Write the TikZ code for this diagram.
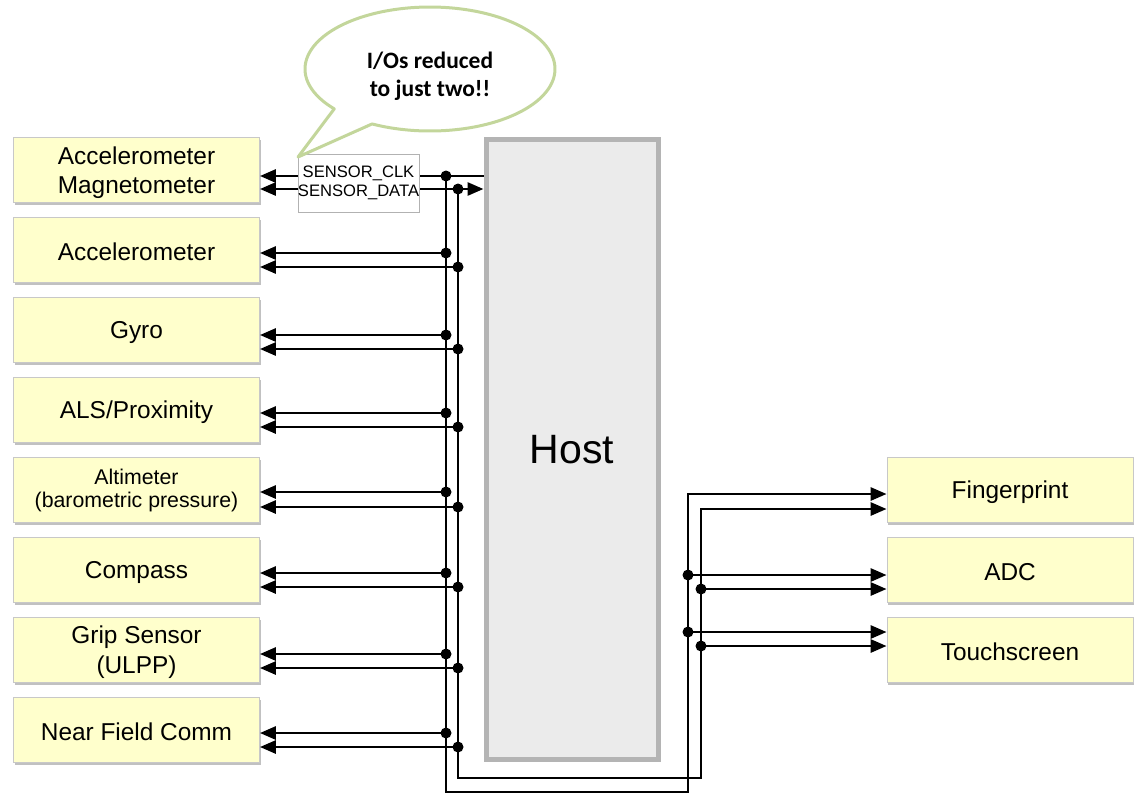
\documentclass[tikz,border=0pt]{standalone}
\usepackage{fontspec}
\setmainfont{Liberation Sans}
\newfontfamily\calibri{Carlito}
\usetikzlibrary{arrows.meta,shadows,calc}
\definecolor{boxyellow}{RGB}{255,255,204}
\definecolor{boxborder}{RGB}{200,200,200}
\definecolor{hostfill}{RGB}{235,235,235}
\definecolor{hostborder}{RGB}{180,180,180}
\definecolor{bubblegreen}{RGB}{195,214,155}
\newcommand{\lowered}[2]{\raisebox{-#1}[\height][\depth]{#2}}
\begin{document}
\begin{tikzpicture}[x=1pt,y=-1pt,
  sbox/.style={draw=boxborder, line width=0.8pt, fill=boxyellow,
    minimum width=246pt, minimum height=65pt, inner sep=0pt, align=center,
    font=\fontsize{24.4}{29}\selectfont,
    drop shadow={shadow xshift=1pt, shadow yshift=-3pt, opacity=0.35, fill=black!70}},
  wire/.style={line width=2.8pt},
  arr/.style={-{Triangle[length=16pt,width=13pt]}},
  darr/.style={{Triangle[length=16pt,width=13pt]}-{Triangle[length=16pt,width=13pt]}},
  jdot/.style={circle, fill=black, inner sep=0pt, minimum size=11pt},
  bubble/.style={draw=bubblegreen, line width=3pt, fill=white, line join=round}
]
\useasboundingbox (0,0) rectangle (1134,796);

% host
\node[draw=hostborder, line width=5pt, fill=hostfill, minimum width=172pt,
      minimum height=620pt, inner sep=0pt, font=\fontsize{41}{45}\selectfont]
      (host) at (572,449.5) {Host};

% left sensor boxes
\node[sbox] (b1) at (136.5,169.5) {\lowered{4pt}{\begin{tabular}{@{}c@{}}Accelerometer\\[0pt]Magnetometer\end{tabular}}};
\node[sbox] (b2) at (136.5,249.5) {\lowered{2pt}{Accelerometer}};
\node[sbox] (b3) at (136.5,329.5) {\lowered{3pt}{Gyro}};
\node[sbox] (b4) at (136.5,409.5) {\lowered{3pt}{ALS/Proximity}};
\node[sbox, font=\fontsize{21.3}{24}\selectfont] (b5) at (136.5,489.5) {\lowered{2pt}{\begin{tabular}{@{}c@{}}Altimeter\\[-1pt](barometric pressure)\end{tabular}}};
\node[sbox] (b6) at (136.5,569.5) {\lowered{3pt}{Compass}};
\node[sbox] (b7) at (136.5,649.5) {\lowered{3pt}{\begin{tabular}{@{}c@{}}Grip Sensor\\[0.5pt](ULPP)\end{tabular}}};
\node[sbox] (b8) at (136.5,729.5) {\lowered{2pt}{Near Field Comm}};

% right boxes
\node[sbox] (r1) at (1010,489.5) {\lowered{3pt}{Fingerprint}};
\node[sbox] (r2) at (1010,569.5) {\lowered{3pt}{ADC}};
\node[sbox] (r3) at (1010,649.5) {\lowered{2pt}{Touchscreen}};

% bus coordinates
\coordinate (clktop) at (446,176);
\coordinate (datatop) at (458,189);
\coordinate (clkbot) at (446,792);
\coordinate (databot) at (458,778);
\coordinate (clkright) at (688,792);
\coordinate (dataright) at (701,778);
\coordinate (clkfp) at (688,494);
\coordinate (datafp) at (701,509);

% first sensor: lines from host
\draw[wire,arr] (host.west |- clktop) -- (b1.east |- clktop);
\draw[wire,darr] (b1.east |- datatop) -- (host.west |- datatop);

% bus
\draw[wire,arr] (clktop) -- (clkbot) -- (clkright) -- (clkfp) -- (r1.west |- clkfp);
\draw[wire,arr] (datatop) -- (databot) -- (dataright) -- (datafp) -- (r1.west |- datafp);

\node[jdot] at (clktop) {};
\node[jdot] at (datatop) {};

% taps for sensors 2..8
\foreach \b/\yc/\yd in {b2/253/267, b3/335/349, b4/413/427, b5/492/507, b6/573/587, b7/654/668, b8/733/747}{
  \coordinate (c\b) at (446,\yc);
  \coordinate (d\b) at (458,\yd);
  \draw[wire,arr] (c\b) -- (\b.east |- c\b);
  \draw[wire,arr] (d\b) -- (\b.east |- d\b);
  \node[jdot] at (c\b) {};
  \node[jdot] at (d\b) {};
}

% taps for right boxes
\foreach \b/\yc/\yd in {r2/575/589, r3/632/646}{
  \coordinate (c\b) at (688,\yc);
  \coordinate (d\b) at (701,\yd);
  \draw[wire,arr] (c\b) -- (\b.west |- c\b);
  \draw[wire,arr] (d\b) -- (\b.west |- d\b);
  \node[jdot] at (c\b) {};
  \node[jdot] at (d\b) {};
}

% signal label
\node[draw=black!30, line width=0.6pt, fill=white, minimum width=121pt, minimum height=58pt,
      inner sep=0pt, align=center, font=\fontsize{16.6}{19}\selectfont]
      (sig) at (358.5,183) {SENSOR\_CLK\\SENSOR\_DATA};

% speech bubble
\draw[bubble] plot[domain=140:477.6, samples=180] ({430+125*cos(\x)},{69+62*sin(\x)}) -- (298,157) -- cycle;
\node[align=center, font=\calibri\bfseries\fontsize{23.5}{28}\selectfont] (btext) at (430,76)
  {I/Os reduced\\to just two!!};
\end{tikzpicture}
\end{document}
